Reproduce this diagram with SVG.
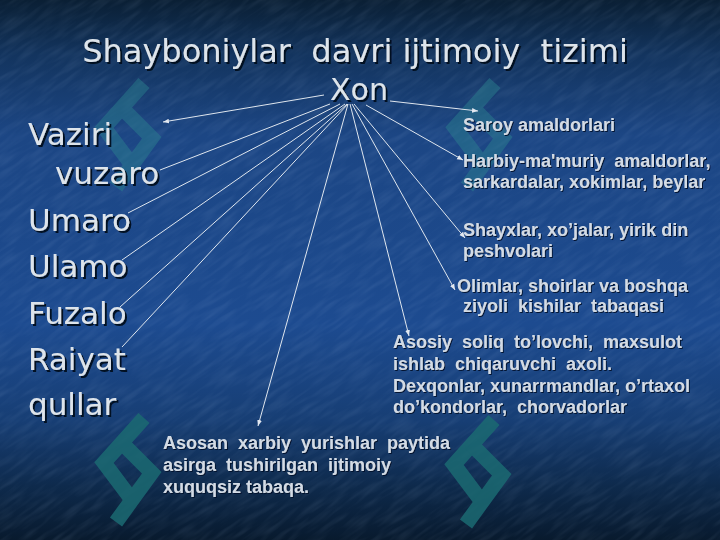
<svg xmlns="http://www.w3.org/2000/svg" xmlns:xlink="http://www.w3.org/1999/xlink" width="720" height="540" viewBox="0 0 720 540">
<defs>
<linearGradient id="bg" x1="0" y1="0" x2="0" y2="1">
<stop offset="0" stop-color="#0a1f34"/>
<stop offset="0.1" stop-color="#13345e"/>
<stop offset="0.25" stop-color="#1c4684"/>
<stop offset="0.6" stop-color="#1d4b90"/>
<stop offset="0.78" stop-color="#173e74"/>
<stop offset="0.9" stop-color="#0e2a4c"/>
<stop offset="1" stop-color="#081a2e"/>
</linearGradient>
<clipPath id="clipall"><rect width="720" height="540"/></clipPath>
<filter id="tex" x="0" y="0" width="100%" height="100%">
<feTurbulence type="fractalNoise" baseFrequency="0.2 0.035" numOctaves="2" seed="5" result="n"/>
<feColorMatrix type="matrix" values="0 0 0 0 0.55  0 0 0 0 0.7  0 0 0 0 0.95  0 0 0 1 -0.4"/>
</filter>
<filter id="sh" x="-5%" y="-20%" width="115%" height="150%">
<feDropShadow dx="2" dy="2" stdDeviation="0.6" flood-color="#050f1e" flood-opacity="0.95"/>
</filter>
<filter id="sh2" x="-5%" y="-20%" width="115%" height="150%">
<feDropShadow dx="1" dy="1" stdDeviation="0.4" flood-color="#06112a" flood-opacity="0.9"/>
</filter>
<marker id="ah" viewBox="0 0 10 10" refX="10" refY="5" markerWidth="6" markerHeight="6" orient="auto" markerUnits="userSpaceOnUse">
<path d="M0,1 L10,5 L0,9 z" fill="#e2e8f0"/>
</marker>
<g id="logo" fill="none" stroke-width="15" stroke-linejoin="miter" stroke-miterlimit="10" stroke-linecap="butt">
<polyline points="47,5 7,49.6 35,87"/>
<polyline points="24,29 54.7,59.8 19,109"/>
</g>
<style>
.title{font-family:"DejaVu Sans",Verdana,sans-serif;fill:#dde4eb;filter:url(#sh)}
.lst{font-family:"DejaVu Sans",Verdana,sans-serif;font-size:31px;fill:#dde4eb;filter:url(#sh)}
.rt{font-family:"Liberation Sans",Arial,sans-serif;font-size:18px;font-weight:bold;fill:#d3dbe5;filter:url(#sh2)}
.ln{stroke:#dfe6ee;stroke-width:1;fill:none}
.arr{marker-end:url(#ah)}
</style>
</defs>
<rect width="720" height="540" fill="url(#bg)"/>
<g clip-path="url(#clipall)">
<rect x="-300" y="-300" width="1400" height="1200" filter="url(#tex)" opacity="0.18" transform="rotate(55 360 270)"/>
</g>
<g id="watermarks">
<use xlink:href="#logo" href="#logo" x="97" y="78" stroke="#2c8590" opacity="0.45"/>
<use xlink:href="#logo" href="#logo" x="448" y="78" stroke="#2c8590" opacity="0.45"/>
<use xlink:href="#logo" href="#logo" x="97" y="413" stroke="#1b6a72" opacity="0.85"/>
<use xlink:href="#logo" href="#logo" x="447" y="415" stroke="#1b6a72" opacity="0.85"/>
</g>
<g id="title">
<text class="title" x="355" y="62" font-size="32" text-anchor="middle" xml:space="preserve">Shayboniylar  davri ijtimoiy  tizimi</text>
</g>
<g id="connectors">
<line class="ln arr" x1="324" y1="95" x2="163" y2="122"/>
<line class="ln" x1="330" y1="104" x2="160" y2="170"/>
<line class="ln" x1="340" y1="104" x2="128" y2="213"/>
<line class="ln" x1="345" y1="104" x2="122" y2="260"/>
<line class="ln" x1="347" y1="104" x2="120" y2="307"/>
<line class="ln" x1="348" y1="104" x2="122" y2="347"/>
<line class="ln arr" x1="348" y1="104" x2="258" y2="426"/>
<line class="ln arr" x1="350" y1="104" x2="409" y2="336"/>
<line class="ln arr" x1="352" y1="104" x2="455" y2="290"/>
<line class="ln arr" x1="354" y1="104" x2="465" y2="238"/>
<line class="ln arr" x1="366" y1="105" x2="463" y2="160"/>
<line class="ln arr" x1="390" y1="101" x2="478" y2="111"/>
</g>
<g id="xon">
<text class="title" x="359" y="100" font-size="30" text-anchor="middle">Xon</text>
</g>
<g id="vaziri-vuzaro">
<text class="lst" x="28" y="145">Vaziri</text>
<text class="lst" x="55" y="184">vuzaro</text>
</g>
<g id="umaro"><text class="lst" x="28" y="231">Umaro</text></g>
<g id="ulamo"><text class="lst" x="28" y="277">Ulamo</text></g>
<g id="fuzalo"><text class="lst" x="28" y="324">Fuzalo</text></g>
<g id="raiyat"><text class="lst" x="28" y="370">Raiyat</text></g>
<g id="qullar"><text class="lst" x="28" y="415">qullar</text></g>
<g id="saroy"><text class="rt" x="463" y="131">Saroy amaldorlari</text></g>
<g id="harbiy">
<text class="rt" x="463" y="167" xml:space="preserve">Harbiy-ma'muriy  amaldorlar,</text>
<text class="rt" x="463" y="188">sarkardalar, xokimlar, beylar</text>
</g>
<g id="shayxlar">
<text class="rt" x="463" y="236">Shayxlar, xo’jalar, yirik din</text>
<text class="rt" x="463" y="257">peshvolari</text>
</g>
<g id="olimlar">
<text class="rt" x="457" y="292">Olimlar, shoirlar va boshqa</text>
<text class="rt" x="463" y="312" xml:space="preserve">ziyoli  kishilar  tabaqasi</text>
</g>
<g id="asosiy">
<text class="rt" x="393" y="348" xml:space="preserve">Asosiy  soliq  to’lovchi,  maxsulot</text>
<text class="rt" x="393" y="370" xml:space="preserve">ishlab  chiqaruvchi  axoli.</text>
<text class="rt" x="393" y="392">Dexqonlar, xunarrmandlar, o’rtaxol</text>
<text class="rt" x="393" y="413" xml:space="preserve">do’kondorlar,  chorvadorlar</text>
</g>
<g id="asosan">
<text class="rt" x="163" y="449" xml:space="preserve">Asosan  xarbiy  yurishlar  paytida</text>
<text class="rt" x="163" y="471" xml:space="preserve">asirga  tushirilgan  ijtimoiy</text>
<text class="rt" x="163" y="493">xuquqsiz tabaqa.</text>
</g>
</svg>
